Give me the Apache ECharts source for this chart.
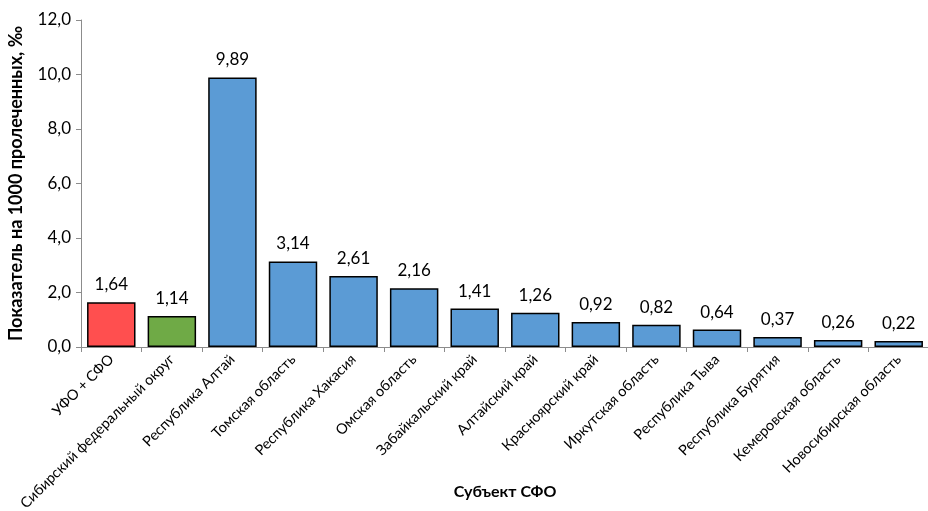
<!DOCTYPE html>
<html>
<head>
<meta charset="UTF-8">
<title></title>
<script src="https://cdn.jsdelivr.net/npm/echarts@6/dist/echarts.min.js"></script>
<style>
  html, body { margin: 0; padding: 0; background: #fff; }
  #main { width: 928px; height: 511px; }
</style>
</head>
<body>
<div id="main"></div>
<script>
// категории и значения
var regions = ['УФО + СФО', 'Сибирский федеральный округ', 'Республика Алтай', 'Томская область',
  'Республика Хакасия', 'Омская область', 'Забайкальский край', 'Алтайский край', 'Красноярский край',
  'Иркутская область', 'Республика Тыва', 'Республика Бурятия', 'Кемеровская область', 'Новосибирская область'];
var rates = [1.64, 1.14, 9.89, 3.14, 2.61, 2.16, 1.41, 1.26, 0.92, 0.82, 0.64, 0.37, 0.26, 0.22];
var barColors = ['#FF4F4F', '#6FAA46'];
var defaultColor = '#5B9BD5';

function comma(v, digits) {
  return v.toFixed(digits).replace('.', ',');
}

var chart = echarts.init(document.getElementById('main'));
var font = 'Lato, "Open Sans", sans-serif';

chart.setOption({
  animation: false,
  grid: { left: 81, top: 20, width: 848, height: 327, outerBoundsMode: 'none', containLabel: false },
  xAxis: {
    type: 'category',
    data: regions,
    name: 'Субъект СФО',
    nameLocation: 'middle',
    nameGap: 137,
    nameMoveOverlap: false,
    nameTextStyle: { fontFamily: font, fontSize: 16, fontWeight: 'bold', color: '#000' },
    axisLine: { lineStyle: { color: '#8c8c8c' } },
    axisTick: { show: true, alignWithLabel: false, length: 5, lineStyle: { color: '#8c8c8c' } },
    axisLabel: { rotate: 45, interval: 0, margin: 10, fontFamily: font, fontSize: 14.5, color: '#000' }
  },
  yAxis: {
    type: 'value',
    min: 0, max: 12, interval: 2,
    name: 'Показатель на 1000 пролеченных, ‰',
    nameLocation: 'middle',
    nameGap: 56,
    nameMoveOverlap: false,
    nameTextStyle: { fontFamily: font, fontSize: 18, fontWeight: 'bold', color: '#000' },
    splitLine: { show: false },
    axisLine: { show: true, lineStyle: { color: '#8c8c8c' } },
    axisTick: { show: true, length: 5, lineStyle: { color: '#8c8c8c' } },
    axisLabel: { fontFamily: font, fontSize: 17, color: '#000', margin: 10,
      formatter: function (v) { return comma(v, 1); } }
  },
  series: [{
    type: 'bar',
    barCategoryGap: '20%',
    data: rates.map(function (v, i) {
      return { value: v, itemStyle: { color: barColors[i] || defaultColor } };
    }),
    itemStyle: { borderColor: '#000', borderWidth: 1.5 },
    label: {
      show: true, position: 'top', distance: 9,
      fontFamily: font, fontSize: 17, color: '#000',
      formatter: function (p) { return comma(p.value, 2); }
    }
  }]
});
</script>
</body>
</html>
